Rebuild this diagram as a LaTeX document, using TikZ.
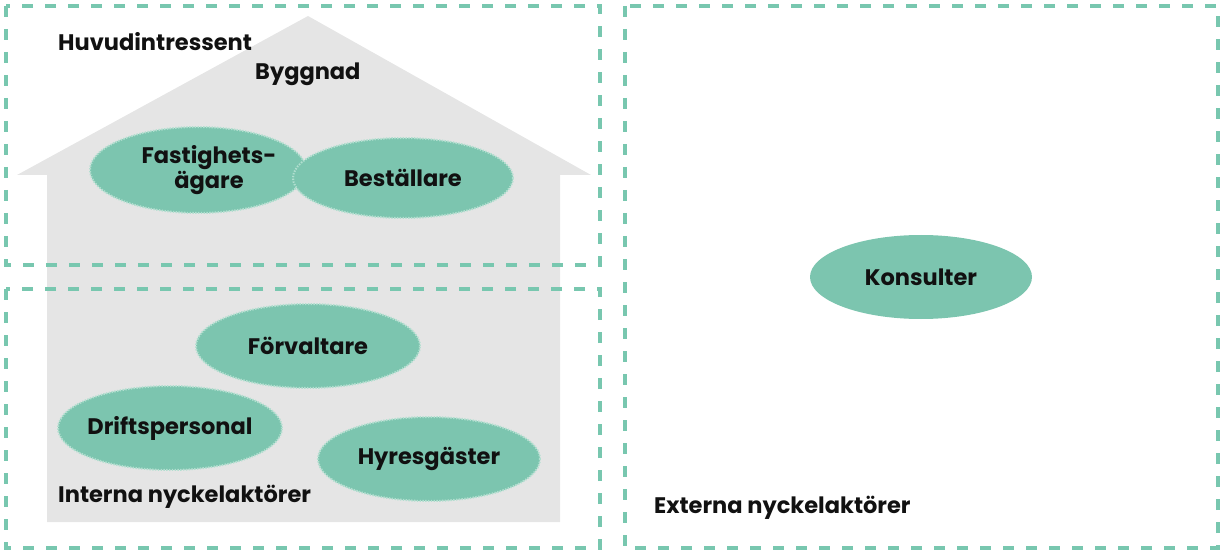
\documentclass[tikz,border=0pt]{standalone}
\usepackage{fontspec}
\setmainfont{Poppins}
\usetikzlibrary{shapes.geometric}
\definecolor{accentfill}{HTML}{7CC5AF}
\definecolor{accentedge}{HTML}{B2DFD0}
\definecolor{accentline}{HTML}{78C7AF}
\definecolor{housegray}{HTML}{E5E5E5}
\definecolor{txt}{HTML}{111111}
\tikzset{
  lblfont/.style={font=\fontsize{22.5}{25}\selectfont\bfseries, text=txt},
  areabox/.style={draw=accentline, line width=4pt, dash pattern=on 11pt off 12pt},
  lbl/.style={lblfont, inner sep=0pt},
  actor/.style={ellipse, fill=accentfill, draw=accentedge, line width=2pt,
    dash pattern=on 1.4pt off 1.4pt, inner xsep=-25pt, inner ysep=0pt, lblfont},
  plainactor/.style={ellipse, fill=accentfill, inner xsep=-25pt, inner ysep=0pt, lblfont},
}
\begin{document}
\begin{tikzpicture}[x=1pt,y=-1pt]
\useasboundingbox (0,0) rectangle (1226,556);
% house
\fill[housegray] (308,16) -- (591,175) -- (560,175) -- (560,522) -- (47,522) -- (47,175) -- (17,175) -- cycle;
% areas
\draw[areabox] (6,6) rectangle (600,265);
\draw[areabox] (6,289) rectangle (600,548);
\draw[areabox] (625,6) rectangle (1218,548);
% labels
\node[lbl, anchor=west] (huvud) at (58,42) {Huvudintressent};
\node[lbl, anchor=west] (bygg) at (255,74) {Byggnad};
\node[lbl, anchor=west] (intern) at (58,497) {Interna nyckelaktörer};
\node[lbl, anchor=west] (extern) at (654,508) {Externa nyckelaktörer};
% actors
\node[actor, minimum width=216pt, minimum height=86pt] (fast) at (198,170) {};
\node[lbl, align=center] (fasttext) at (209,170) {Fastighets-\\ägare};
\node[actor, minimum width=220pt, minimum height=80pt] (best) at (403,178) {Beställare};
\node[actor, minimum width=224pt, minimum height=84pt] (forv) at (308,346) {Förvaltare};
\node[actor, minimum width=224pt, minimum height=84pt] (drift) at (170,428) {Driftspersonal};
\node[actor, minimum width=222pt, minimum height=84pt] (hyres) at (429,459) {Hyresgäster};
\node[plainactor, minimum width=222pt, minimum height=84pt] (kons) at (921,277) {Konsulter};
\end{tikzpicture}
\end{document}
